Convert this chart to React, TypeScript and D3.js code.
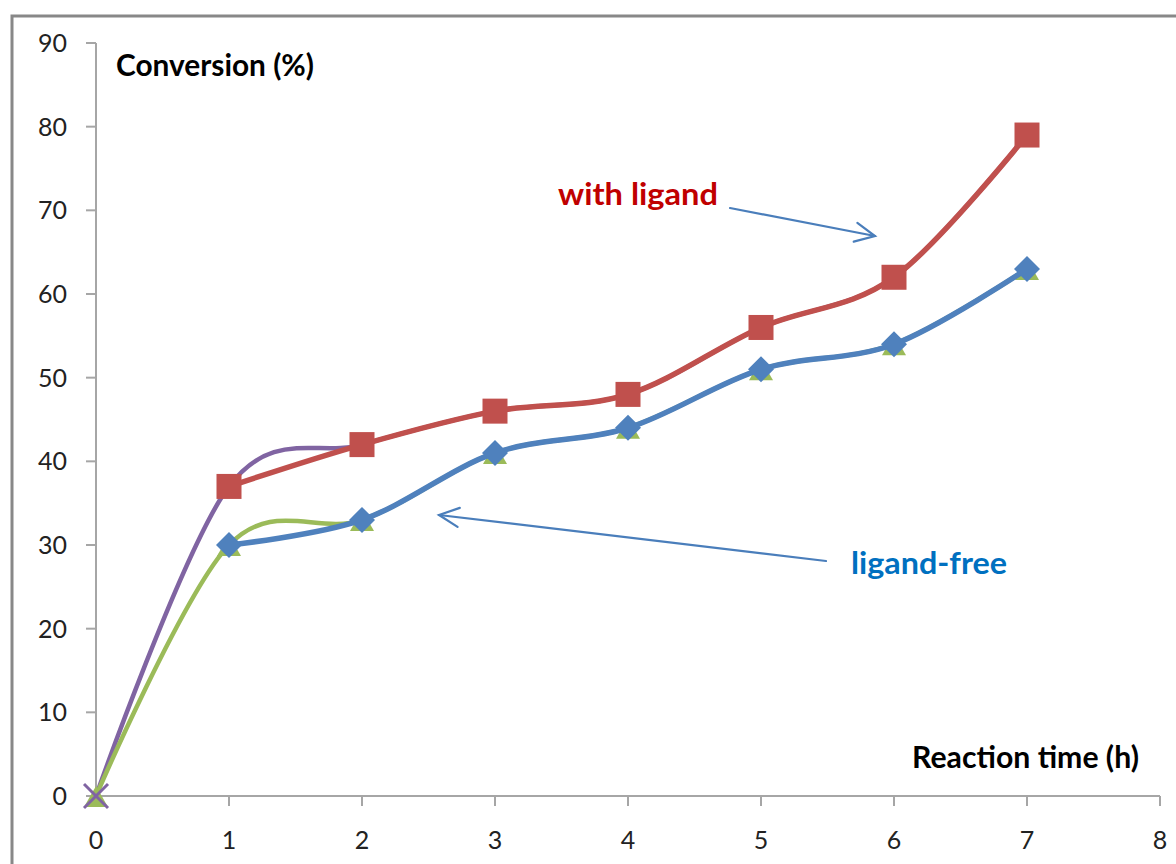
import React from "react";
import * as d3 from "d3";

const hours = [0, 1, 2, 3, 4, 5, 6, 7];
const withLigand = [0, 37, 42, 46, 48, 56, 62, 79];
const ligandFree = [0, 30, 33, 41, 44, 51, 54, 63];
const xTicks = [0, 1, 2, 3, 4, 5, 6, 7, 8];
const yTicks = [0, 10, 20, 30, 40, 50, 60, 70, 80, 90];

const W = 1176, H = 864;
const FONT = "Lato, 'Open Sans', sans-serif";

export default function App() {
  const x = d3.scaleLinear().domain([0, 8]).range([96, 1160]);
  const y = d3.scaleLinear().domain([0, 90]).range([796, 43]);
  const pts = (vals: number[], from = 0) =>
    hours.slice(from).map((h, i) => [x(h), y(vals[i + from])] as [number, number]);
  const line = d3.line().curve(d3.curveCardinal.tension(0));

  const purple = pts(withLigand);
  const green = pts(ligandFree);
  const red = pts(withLigand, 1);
  const blue = pts(ligandFree, 1);

  const arrow = (x1: number, y1: number, x2: number, y2: number) => {
    const a = Math.atan2(y2 - y1, x2 - x1);
    const L = 22, s = 0.45;
    const p1 = [x2 - L * Math.cos(a - s), y2 - L * Math.sin(a - s)];
    const p2 = [x2 - L * Math.cos(a + s), y2 - L * Math.sin(a + s)];
    return (
      <g stroke="#4A7EBB" strokeWidth={2.2} fill="none" strokeLinecap="round">
        <line x1={x1} y1={y1} x2={x2} y2={y2} />
        <polyline points={`${p1[0]},${p1[1]} ${x2},${y2} ${p2[0]},${p2[1]}`} />
      </g>
    );
  };

  return (
    <svg width={W} height={H} style={{ position: "absolute", left: 0, top: 0, background: "#fff" }}>
      <rect x={0} y={0} width={W} height={H} fill="#fff" />
      <path d={`M12,${H} L12,16 L${W},16`} stroke="#888" strokeWidth={3} fill="none" />
      <g stroke="#a6a6a6" strokeWidth={2}>
        <line x1={x(0)} y1={y(90)} x2={x(0)} y2={y(0)} />
        <line x1={x(0)} y1={y(0)} x2={x(8)} y2={y(0)} />
        {yTicks.map((t) => (
          <line key={"yt" + t} x1={x(0) - 10} x2={x(0)} y1={y(t)} y2={y(t)} />
        ))}
        {xTicks.map((t) => (
          <line key={"xt" + t} x1={x(t)} x2={x(t)} y1={y(0)} y2={y(0) + 10} />
        ))}
      </g>
      <g fontFamily={FONT} fontSize={25} fill="#222">
        {yTicks.map((t) => (
          <text key={"yl" + t} x={67} y={y(t)} dy="0.36em" textAnchor="end">{t}</text>
        ))}
        {xTicks.map((t) => (
          <text key={"xl" + t} x={x(t)} y={849} textAnchor="middle">{t}</text>
        ))}
      </g>
      <path d={line(purple) || ""} stroke="#8064A2" strokeWidth={4.5} fill="none" />
      <path d={line(green) || ""} stroke="#9BBB59" strokeWidth={4.5} fill="none" />
      {green.map(([px, py], i) => (
        <path key={"g" + i} d={`M${px - 12},${py + 11} L${px},${py - 10} L${px + 12},${py + 11} Z`} fill="#9BBB59" />
      ))}
      <g stroke="#8064A2" strokeWidth={3}>
        <line x1={purple[0][0] - 12} y1={purple[0][1] - 12} x2={purple[0][0] + 12} y2={purple[0][1] + 12} />
        <line x1={purple[0][0] - 12} y1={purple[0][1] + 12} x2={purple[0][0] + 12} y2={purple[0][1] - 12} />
      </g>
      <path d={line(red) || ""} stroke="#C0504D" strokeWidth={5.5} fill="none" />
      {red.map(([px, py], i) => (
        <rect key={"r" + i} x={px - 12.5} y={py - 12.5} width={25} height={25} fill="#C0504D" />
      ))}
      <path d={line(blue) || ""} stroke="#4F81BD" strokeWidth={5.5} fill="none" />
      {blue.map(([px, py], i) => (
        <path key={"b" + i} d={`M${px},${py - 13} L${px + 13},${py} L${px},${py + 13} L${px - 13},${py} Z`} fill="#4F81BD" />
      ))}
      {arrow(730, 208, 875, 236)}
      {arrow(826, 561, 439, 515)}
      <g fontFamily={FONT} fontWeight="bold">
        <text x={116} y={76} fill="#000" fontSize={30} textLength={198} lengthAdjust="spacingAndGlyphs">Conversion (%)</text>
        <text x={912} y={768} fill="#000" fontSize={30} textLength={227} lengthAdjust="spacingAndGlyphs">Reaction time (h)</text>
        <text x={558} y={205} fill="#C00000" fontSize={31} textLength={160} lengthAdjust="spacingAndGlyphs">with ligand</text>
        <text x={851} y={574} fill="#0070C0" fontSize={31} textLength={156} lengthAdjust="spacingAndGlyphs">ligand-free</text>
      </g>
    </svg>
  );
}
